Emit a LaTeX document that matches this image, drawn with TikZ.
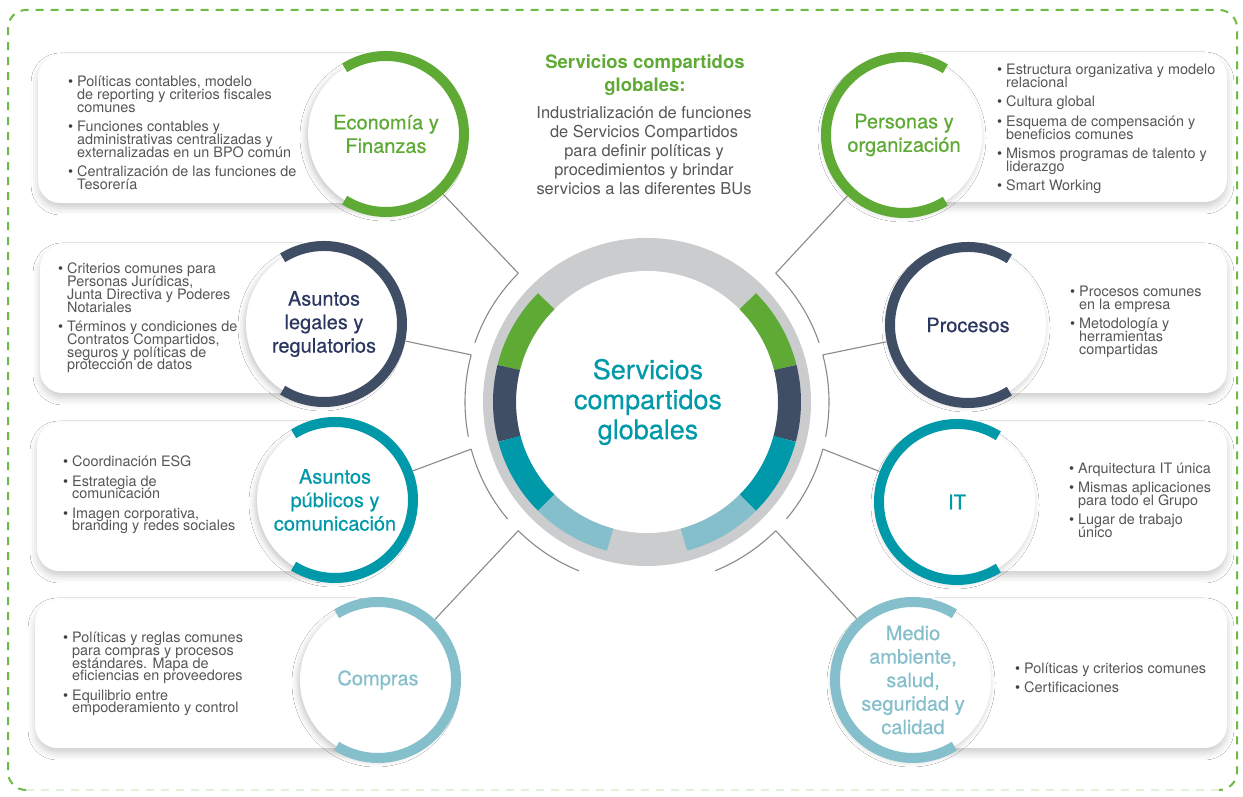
\documentclass[tikz,border=0pt]{standalone}
\usepackage{fontspec}
\setmainfont{TeX Gyre Heros}
\newfontfamily\heromed[FakeBold=0.5]{TeX Gyre Heros}
\usetikzlibrary{shadows.blur}
\definecolor{verde}{HTML}{5EAA35}
\definecolor{bordeverde}{HTML}{6DBB45}
\definecolor{marino}{HTML}{3F4E65}
\definecolor{tinta}{HTML}{2C3760}
\definecolor{turquesa}{HTML}{0099A9}
\definecolor{celeste}{HTML}{86BFCC}
\definecolor{gris}{HTML}{CBCCCE}
\definecolor{linea}{HTML}{8A8A8A}
\definecolor{texto}{HTML}{565656}
\definecolor{punto}{HTML}{404040}
\newcommand{\vin}{\makebox[9pt][l]{\textcolor{punto}{\textbullet}}}
\newcommand{\sangr}{\hspace*{9pt}}
\newcommand{\apretado}{\fontsize{14.4}{12.8}\selectfont\lineskiplimit -20pt\relax}
\begin{document}
\begin{tikzpicture}[x=1pt,y=1pt,
  caja/.style={fill=white, rounded corners=22pt, minimum height=148pt, inner sep=0pt,
    blur shadow={shadow xshift=0pt, shadow yshift=-5pt, shadow blur radius=7pt, shadow opacity=20}},
  sat/.style={circle, fill=white, minimum size=156pt, inner sep=0pt, align=center,
    font=\heromed\fontsize{20}{23.5}\selectfont,
    blur shadow={shadow xshift=-2pt, shadow yshift=-3pt, shadow blur radius=6pt, shadow opacity=22}},
  aro/.style={line width=10pt},
  lista/.style={anchor=west, align=left, inner sep=0pt, text=texto, font=\apretado},
  conector/.style={draw=linea, line width=1.1pt},
  borde/.style={draw=bordeverde, line width=2pt, dash pattern=on 8pt off 7pt, rounded corners=18pt}]
\useasboundingbox (0,0) rectangle (1243,797);
\fill[white] (0,0) rectangle (1243,797);
\draw[borde] (26,7) -- (8,7) -- (8,787) -- (1237,787) -- (1237,7) -- (1219,7);
\draw[borde, draw=bordeverde!20] (26,7) -- (1219,7);

\node[caja, minimum width=348pt, anchor=west] (cajaecon) at (38,668) {};
\node[caja, minimum width=284pt, anchor=west] (cajalegal) at (40,478) {};
\node[caja, minimum width=298pt, anchor=west] (cajapubl) at (37,300) {};
\node[caja, minimum width=343pt, anchor=west] (cajacompras) at (35,123) {};
\node[caja, minimum width=323pt, anchor=east] (cajapersonas) at (1227,669) {};
\node[caja, minimum width=259pt, anchor=east] (cajaprocesos) at (1227,478) {};
\node[caja, minimum width=270pt, anchor=east] (cajait) at (1227,300) {};
\node[caja, minimum width=314pt, anchor=east] (cajamedio) at (1227,123) {};

\begin{scope}[shift={(647,395)}]
\fill[gris] (0,0) circle (164);
\fill[white] (0,0) circle (131);
\draw[line width=23pt, verde] (135:142.5) arc[start angle=135, end angle=166, radius=142.5];
\draw[line width=23pt, marino] (166:142.5) arc[start angle=166, end angle=195, radius=142.5];
\draw[line width=23pt, turquesa] (195:142.5) arc[start angle=195, end angle=225, radius=142.5];
\draw[line width=23pt, celeste] (225:142.5) arc[start angle=225, end angle=255, radius=142.5];
\draw[line width=23pt, verde] (45:142.5) arc[start angle=45, end angle=14, radius=142.5];
\draw[line width=23pt, marino] (14:142.5) arc[start angle=14, end angle=-15, radius=142.5];
\draw[line width=23pt, turquesa] (-15:142.5) arc[start angle=-15, end angle=-45, radius=142.5];
\draw[line width=23pt, celeste] (-45:142.5) arc[start angle=-45, end angle=-75, radius=142.5];
\coordinate (p1) at (135:182);
\coordinate (p2) at (165:182);
\coordinate (p3) at (195:182);
\coordinate (p4) at (225:182);
\coordinate (q1) at (45:182);
\coordinate (q2) at (15:182);
\coordinate (q3) at (-15:182);
\coordinate (q4) at (-45:182);
\draw[conector] (p1) arc[start angle=135, end angle=161, radius=182];
\draw[conector] (p2) arc[start angle=165, end angle=191, radius=182];
\draw[conector] (p3) arc[start angle=195, end angle=220, radius=182];
\draw[conector] (p4) arc[start angle=225, end angle=248, radius=182];
\draw[conector] (q1) arc[start angle=45, end angle=19, radius=182];
\draw[conector] (q2) arc[start angle=15, end angle=-11, radius=182];
\draw[conector] (q3) arc[start angle=-15, end angle=-40, radius=182];
\draw[conector] (q4) arc[start angle=-45, end angle=-68, radius=182];
\end{scope}
\node[text=turquesa, align=center, font=\heromed\fontsize{27}{30}\selectfont] (nucleo) at (648,395) {Servicios\\compartidos\\globales};

\node[sat, text=verde] (econ) at (386,663) {Economía y\\Finanzas};
\node[sat, text=tinta] (legal) at (324,473) {Asuntos\\legales y\\regulatorios};
\node[sat, text=turquesa] (publ) at (335,297) {Asuntos\\públicos y\\comunicación};
\node[sat, text=celeste] (compras) at (378,117) {Compras};
\node[sat, text=verde] (personas) at (904,662) {Personas y\\organización};
\node[sat, text=tinta] (procesos) at (968,472) {Procesos};
\node[sat, text=turquesa] (it) at (957,295) {IT};
\node[sat, text=celeste] (medio) at (913,117) {Medio\\ambiente,\\salud,\\seguridad y\\calidad};

\draw[aro, verde] (econ.center) ++(122:78) arc[start angle=122, end angle=-122, radius=78];
\draw[aro, marino] (legal.center) ++(122:78) arc[start angle=122, end angle=-122, radius=78];
\draw[aro, turquesa] (publ.center) ++(122:78) arc[start angle=122, end angle=-122, radius=78];
\draw[aro, celeste] (compras.center) ++(122:78) arc[start angle=122, end angle=-122, radius=78];
\draw[aro, verde] (personas.center) ++(58:78) arc[start angle=58, end angle=302, radius=78];
\draw[aro, marino] (procesos.center) ++(58:78) arc[start angle=58, end angle=302, radius=78];
\draw[aro, turquesa] (it.center) ++(58:78) arc[start angle=58, end angle=302, radius=78];
\draw[aro, celeste] (medio.center) ++(58:78) arc[start angle=58, end angle=302, radius=78];

\draw[conector, shorten <=5pt] (econ) -- (p1);
\draw[conector, shorten <=5pt] (legal) -- (p2);
\draw[conector, shorten <=5pt] (publ) -- (p3);
\draw[conector, shorten <=5pt] (compras) -- (p4);
\draw[conector, shorten <=5pt] (personas) -- (q1);
\draw[conector, shorten <=5pt] (procesos) -- (q2);
\draw[conector, shorten <=5pt] (it) -- (q3);
\draw[conector, shorten <=5pt] (medio) -- (q4);

\node[lista] (listaecon) at (68,664) {\vin Políticas contables, modelo\\ \sangr de reporting y criterios fiscales\\ \sangr comunes\\[6.5pt]
  \vin Funciones contables y\\ \sangr administrativas centralizadas y\\ \sangr externalizadas en un BPO común\\[6.5pt]
  \vin Centralización de las funciones de\\ \sangr Tesorería};
\node[lista] (listalegal) at (58,479) {\vin Criterios comunes para\\ \sangr Personas Jurídicas,\\ \sangr Junta Directiva y Poderes\\ \sangr Notariales\\[6.5pt]
  \vin Términos y condiciones de\\ \sangr Contratos Compartidos,\\ \sangr seguros y políticas de\\ \sangr protección de datos};
\node[lista] (listapubl) at (63,302) {\vin Coordinación ESG\\[6.5pt]
  \vin Estrategia de\\ \sangr comunicación\\[6.5pt]
  \vin Imagen corporativa,\\ \sangr branding y redes sociales};
\node[lista] (listacompras) at (63,123) {\vin Políticas y reglas comunes\\ \sangr para compras y procesos\\ \sangr estándares. Mapa de\\ \sangr eficiencias en proveedores\\[6.5pt]
  \vin Equilibrio entre\\ \sangr empoderamiento y control};
\node[lista] (listapersonas) at (997,668) {\vin Estructura organizativa y modelo\\ \sangr relacional\\[6.5pt]
  \vin Cultura global\\[6.5pt]
  \vin Esquema de compensación y\\ \sangr beneficios comunes\\[6.5pt]
  \vin Mismos programas de talento y\\ \sangr liderazgo\\[6.5pt]
  \vin Smart Working};
\node[lista] (listaprocesos) at (1070,475) {\vin Procesos comunes\\ \sangr en la empresa\\[6.5pt]
  \vin Metodología y\\ \sangr herramientas\\ \sangr compartidas};
\node[lista] (listait) at (1069,297) {\vin Arquitectura IT única\\[6.5pt]
  \vin Mismas aplicaciones\\ \sangr para todo el Grupo\\[6.5pt]
  \vin Lugar de trabajo\\ \sangr único};
\node[lista] (listamedio) at (1015,119) {\vin Políticas y criterios comunes\\[6.5pt]
  \vin Certificaciones};

\node[text=verde, align=center, font=\bfseries\fontsize{18.5}{23.5}\selectfont] (titulo) at (645,722) {Servicios compartidos\\globales:};
\node[text=texto, align=center, font=\fontsize{16.4}{19}\selectfont] (resumen) at (644,646) {Industrialización de funciones\\de Servicios Compartidos\\para definir políticas y\\procedimientos y brindar\\servicios a las diferentes BUs};
\end{tikzpicture}
\end{document}
